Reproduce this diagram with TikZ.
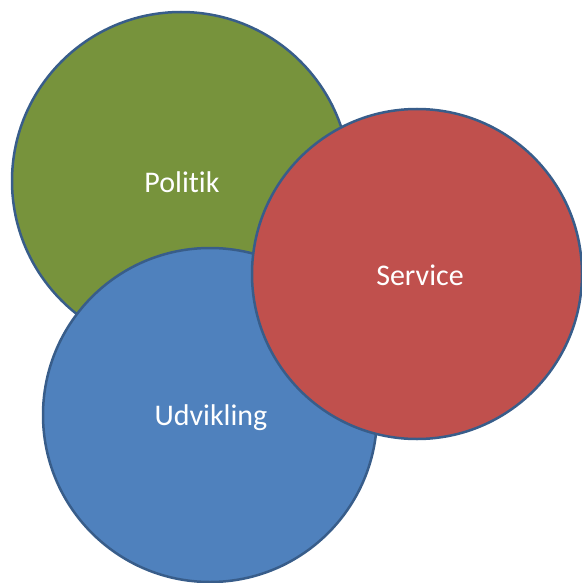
\documentclass[tikz,border=0pt]{standalone}
\usepackage{fontspec}
\setmainfont[Ligatures=NoCommon]{Carlito}
\definecolor{pgreen}{HTML}{77933C}
\definecolor{pblue}{HTML}{4F81BD}
\definecolor{pred}{HTML}{C0504D}
\definecolor{pborder}{HTML}{385D8A}
\begin{document}
\begin{tikzpicture}[x=1pt,y=-1pt,
  bubble/.style={circle,draw=pborder,line width=2.5pt,inner sep=0pt,minimum size=#1},
  label/.style={font=\fontsize{30}{34}\selectfont,text=white,inner sep=0pt}]
\useasboundingbox (0,0) rectangle (581,583);
\node[bubble=338pt,fill=pgreen] (politik) at (181,181) {};
\node[label] (politiktext) at (182,182) {Politik};
\node[bubble=334pt,fill=pblue] (udvikling) at (210,415) {};
\node[label] (udviklingtext) at (211,418) {Udvikling};
\node[bubble=330pt,fill=pred] (service) at (417,274) {};
\node[label] (servicetext) at (420,275) {Service};
\end{tikzpicture}
\end{document}
